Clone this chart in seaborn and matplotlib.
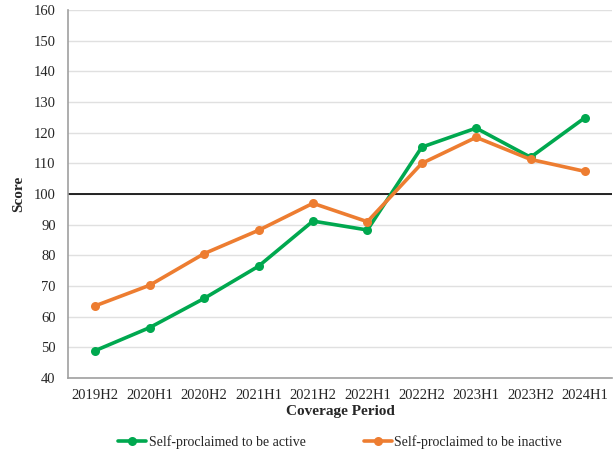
import numpy as np
import pandas as pd
import seaborn as sns
import matplotlib.pyplot as plt

periods = ["2019H2", "2020H1", "2020H2", "2021H1", "2021H2",
           "2022H1", "2022H2", "2023H1", "2023H2", "2024H1"]
active = [49.0, 56.5, 66.0, 76.5, 91.2, 88.3, 115.3, 121.5, 112.0, 124.9]
inactive = [63.6, 70.3, 80.6, 88.2, 97.0, 91.0, 110.0, 118.5, 111.3, 107.4]

df = pd.DataFrame({
    "pos": list(range(len(periods))) * 2,
    "Score": active + inactive,
    "group": ["Self-proclaimed to be active"] * len(periods)
             + ["Self-proclaimed to be inactive"] * len(periods),
})

sns.set_style("white")
plt.rcParams["font.family"] = ["Liberation Serif", "DejaVu Serif"]

fig = plt.figure(figsize=(6.14, 4.54), dpi=100)
ax = fig.add_axes([0.111, 0.167, 0.886, 0.811])

sns.lineplot(data=df, x="pos", y="Score", hue="group",
             palette=["#00A84F", "#ED7D31"], marker="o", markersize=6.5,
             markeredgewidth=0, linewidth=2.6, ax=ax)

ax.set_ylim(40, 160)
ax.set_yticks(np.arange(40, 161, 10))
ax.set_xlim(-0.5, len(periods) - 0.5)
ax.set_xticks(range(len(periods)))
ax.set_xticklabels(periods)
ax.set_xticks(np.arange(-0.5, len(periods), 1), minor=True)
ax.tick_params(axis="x", which="major", length=0, pad=8, labelsize=10.5)
ax.tick_params(axis="x", which="minor", length=5, color="#a0a0a0", width=1)
ax.tick_params(axis="y", length=5, color="#a0a0a0", labelsize=10.5, pad=4)

ax.grid(axis="y", color="#e0e0e0", linewidth=1)
ax.set_axisbelow(True)
ax.axhline(100, color="black", linewidth=1.2, zorder=1)

for s in ["top", "right"]:
    ax.spines[s].set_visible(False)
for s in ["left", "bottom"]:
    ax.spines[s].set_color("#a0a0a0")
    ax.spines[s].set_linewidth(1.2)

ax.set_xlabel("Coverage Period", fontweight="bold", fontsize=11, labelpad=2)
ax.set_ylabel("Score", fontweight="bold", fontsize=11, labelpad=6)

ax.legend(loc="upper center", bbox_to_anchor=(0.5, -0.12), ncol=2,
          frameon=False, fontsize=10, handlelength=2, columnspacing=4.2,
          handletextpad=0.2)

fig.savefig("out.png", dpi=100)
